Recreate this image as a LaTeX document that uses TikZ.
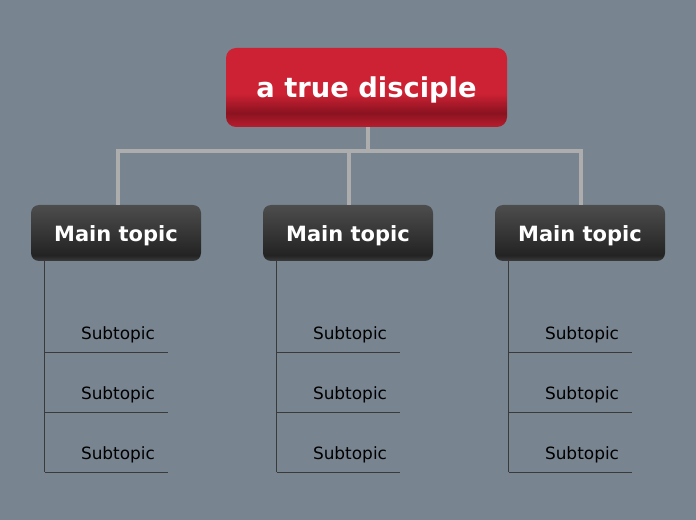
\documentclass[tikz,border=0pt]{standalone}
\usepackage{fontspec}
\setmainfont{DejaVu Sans}
\usetikzlibrary{positioning,calc}

\definecolor{bgslate}{HTML}{788591}
\definecolor{rootred}{HTML}{CC2233}
\definecolor{rootdark}{HTML}{8A1220}
\definecolor{rootlow}{HTML}{B81E2E}
\definecolor{topictop}{HTML}{4D4D4D}
\definecolor{topicdark}{HTML}{232323}
\definecolor{topiclow}{HTML}{3C3C3C}
\definecolor{trunkgray}{HTML}{ADADAD}
\definecolor{twiggray}{HTML}{3A3A3A}

% vertical shadings, node box maps to 25bp..75bp
\pgfdeclareverticalshading{rootshade}{100bp}{color(0bp)=(rootlow); color(25bp)=(rootlow);
  color(34bp)=(rootdark); color(46bp)=(rootred); color(75bp)=(rootred); color(100bp)=(rootred)}
\pgfdeclareverticalshading{topicshade}{100bp}{color(0bp)=(topiclow); color(25bp)=(topiclow);
  color(30bp)=(topicdark); color(75bp)=(topictop); color(100bp)=(topictop)}

\tikzset{
  rootbox/.style={shading=rootshade, rounded corners=7.5pt, minimum width=210.75pt,
    minimum height=59.25pt, text depth=0pt, text=white,
    font=\bfseries\fontsize{20.5}{24}\selectfont},
  topicbox/.style={shading=topicshade, rounded corners=6pt, minimum width=127.5pt,
    minimum height=42pt, text depth=0pt, text=white,
    font=\bfseries\fontsize{15.75}{19}\selectfont},
  subtopic/.style={minimum height=28.5pt, inner sep=0pt, text depth=0pt, text=black,
    font=\fontsize{12.7}{15}\selectfont},
  trunk/.style={trunkgray, line width=3pt},
  twig/.style={twiggray, line width=1.1pt},
}

\begin{document}
\begin{tikzpicture}[x=0.75pt, y=-0.75pt]
    % Background
    \fill[bgslate] (0,0) rectangle (696,520);
    \useasboundingbox (0,0) rectangle (696,520);

    % Root and main topics
    \node[rootbox] (root) at (366.5,87.5) {a true disciple};
    \node[topicbox] (m1) at (116,233) {\raisebox{-1pt}{Main topic}};
    \node[topicbox] (m2) at (348,233) {\raisebox{-1pt}{Main topic}};
    \node[topicbox] (m3) at (580,233) {\raisebox{-1pt}{Main topic}};

    % Connectors root -> main topics
    \coordinate (bar) at (368,151);
    \draw[trunk] ([xshift=1.1pt]root.south) -- ([xshift=1.1pt]root.south |- bar);
    \draw[trunk] ([xshift=1.5pt]m1.north) |- (bar) -| ([xshift=0.75pt]m3.north);
    \draw[trunk] ([xshift=0.75pt]m2.north) -- ([xshift=0.75pt]m2.north |- bar);

    % Subtopics under each main topic
    \foreach \m in {1,2,3} {
      \foreach \j/\dy in {1/100,2/160,3/220} {
        \node[subtopic] (s\m\j) at ($(m\m)+(2,\dy)$) {Subtopic};
        \draw[twig] ([xshift=10.5pt]m\m.south west |- s\m\j.south) -- ([xshift=37.5pt]s\m\j.south);
      }
      \draw[twig] ([xshift=10.5pt]m\m.south west) -- ([xshift=10.5pt]m\m.south west |- s\m3.south);
    }
  \end{tikzpicture}
\end{document}
